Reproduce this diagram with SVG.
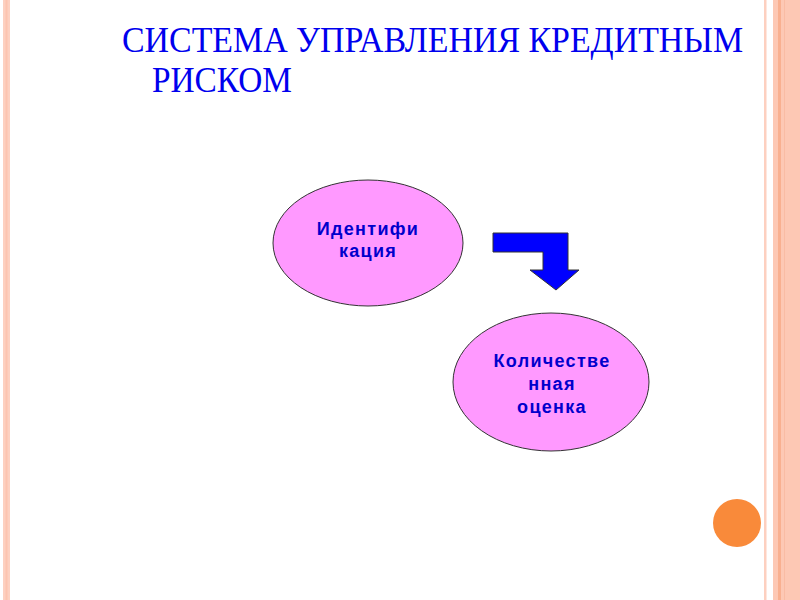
<svg xmlns="http://www.w3.org/2000/svg" width="800" height="600" viewBox="0 0 800 600">
<style>
.title{font-family:"Liberation Serif","Times New Roman",serif;font-size:36px;fill:#0000ee}
.node ellipse{fill:#ff99ff;stroke:#333;stroke-width:1}
.node text{font-family:"Liberation Sans",Arial,sans-serif;font-size:18px;font-weight:bold;fill:#0000cc;text-anchor:middle;letter-spacing:1.3px}
</style>
<rect width="800" height="600" fill="#fff"/>
<!-- borders -->
<rect x="3" y="0" width="7" height="600" fill="#fdd0c0"/>
<rect x="5.5" y="0" width="2" height="600" fill="#fcc4b0"/>
<rect x="764" y="0" width="2.5" height="600" fill="#fdd0c0"/>
<rect x="773" y="0" width="5" height="600" fill="#fdc8b4"/>
<rect x="778" y="0" width="3" height="600" fill="#f9b090"/>
<rect x="781" y="0" width="19" height="600" fill="#fdc8b4"/>
<rect x="784" y="0" width="1" height="600" fill="#f9bca4"/>
<text class="title" x="122" y="52" textLength="621" lengthAdjust="spacingAndGlyphs">СИСТЕМА УПРАВЛЕНИЯ КРЕДИТНЫМ</text>
<text class="title" x="152" y="92" textLength="140" lengthAdjust="spacingAndGlyphs">РИСКОМ</text>
<g id="node1" class="node">
<ellipse cx="368" cy="243" rx="95" ry="63"/>
<text x="368" y="235">Идентифи</text>
<text x="368" y="257">кация</text>
</g>
<g id="node2" class="node">
<ellipse cx="551" cy="382" rx="98" ry="69"/>
<text x="552" y="367">Количестве</text>
<text x="552" y="390">нная</text>
<text x="552" y="413">оценка</text>
</g>
<g id="connectors">
<path d="M493,233 L568,233 L568,270 L579,270 L556,290 L530,270 L543,270 L543,252 L493,252 Z" fill="#0000ff" stroke="#333" stroke-width="1"/>
</g>
<circle cx="737" cy="523" r="24" fill="#f98a3a"/>
</svg>
